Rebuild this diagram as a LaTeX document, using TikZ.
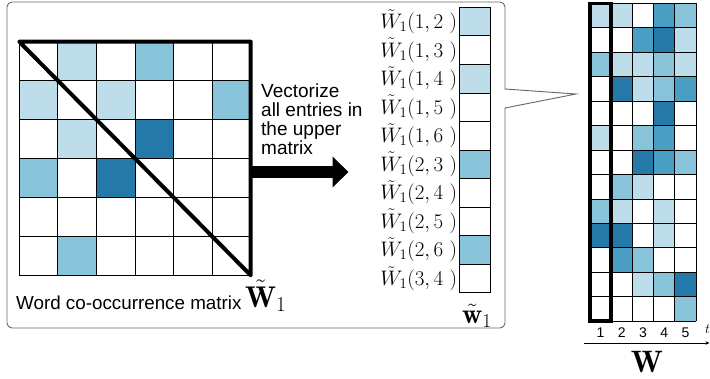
\RequirePackage{fix-cm}
\documentclass[tikz,border=0pt]{standalone}
\usepackage{amsmath,amssymb}
\usepackage{fontspec}
\newfontfamily\helv{Liberation Sans}
\usetikzlibrary{arrows.meta}
\definecolor{tone1}{HTML}{BCDDE9}
\definecolor{tone2}{HTML}{89C3D9}
\definecolor{tone3}{HTML}{4A9EC4}
\definecolor{tone4}{HTML}{2479A9}
\definecolor{framegray}{HTML}{666666}

\tikzset{
  gridline/.style={black,line width=0.8pt},
  uppercut/.style={black,line width=4pt,line join=round},
  vecarrow/.style={black,line width=12pt,-{Triangle[length=16pt,width=30pt]}},
  boxframe/.style={framegray,line width=0.9pt},
  sanstext/.style={font=\helv\fontsize{19}{18.7}\selectfont,inner sep=0pt},
  entrylabel/.style={anchor=east,inner sep=0pt,font=\fontsize{21}{21}\selectfont},
  colnum/.style={font=\helv\fontsize{14}{14}\selectfont,inner sep=0pt},
  boldlabel/.style={inner sep=0pt,font=\fontsize{28}{28}\selectfont},
}

\begin{document}
\begin{tikzpicture}[x=1pt,y=-1pt]
        \useasboundingbox (0,0) rectangle (710,378);
        % callout frame
        \draw[boxframe] (576,94) -- (505,108)
          {[rounded corners=5pt] -- (505,328) -- (7,328) -- (7,2) -- (505,2)}
          -- (505,89) -- cycle;
        % co-occurrence matrix
        \def\cw{38.57}
        \def\ch{38.93}
        \begin{scope}[shift={(19.3,41.7)}]
          \foreach \r/\c/\col in {1/2/tone1,1/4/tone2,2/1/tone1,2/3/tone1,2/6/tone2,
                                  3/2/tone1,3/4/tone4,4/1/tone2,4/3/tone4,6/2/tone2}
            \fill[\col] ({(\c-1)*\cw},{(\r-1)*\ch}) rectangle ({\c*\cw},{\r*\ch});
          \foreach \k in {0,...,6} {
            \draw[gridline] (\k*\cw,0) -- (\k*\cw,6*\ch);
            \draw[gridline] (0,\k*\ch) -- (6*\cw,\k*\ch);
          }
          \draw[uppercut] (0,0) -- (6*\cw,0) -- (6*\cw,6*\ch) -- cycle;
          \coordinate (arrS) at (6*\cw,130.3);
        \end{scope}
        \node[sanstext,anchor=base west,font=\helv\fontsize{18.8}{18.8}\selectfont]
          (cooclabel) at (16,309) {Word co-occurrence matrix};
        \node[boldlabel,anchor=base west,font=\fontsize{30}{30}\selectfont]
          (Wtilde) at (245,307) {$\tilde{\mathbf{W}}_1$};
        % vectorize arrow
        \coordinate (arrE) at (348.5,172);
        \draw[vecarrow] (arrS) -- (arrE);
        \node[sanstext,anchor=north west,align=left] (vectext) at (261,84)
          {Vectorize\\all entries in\\the upper\\matrix};
        % vector of upper entries
        \def\vh{28.54}
        \begin{scope}[shift={(459.3,7.3)}]
          \foreach \k in {1,3}
            \fill[tone1] (0,{(\k-1)*\vh}) rectangle (31.4,{\k*\vh});
          \foreach \k in {6,9}
            \fill[tone2] (0,{(\k-1)*\vh}) rectangle (31.4,{\k*\vh});
          \foreach \k in {0,...,10}
            \draw[gridline] (0,\k*\vh) -- (31.4,\k*\vh);
          \draw[gridline] (0,0) -- (0,10*\vh);
          \draw[gridline] (31.4,0) -- (31.4,10*\vh);
          \foreach \k/\i/\j in {1/1/2,2/1/3,3/1/4,4/1/5,5/1/6,6/2/3,7/2/4,8/2/5,9/2/6,10/3/4}
            \node[entrylabel] (entry\k) at (-2,{(\k-0.5)*\vh}) {$\tilde{W}_1(\i,\j\ )$};
        \end{scope}
        \node[boldlabel,anchor=base east] (wtilde) at (492,323) {$\tilde{\mathbf{w}}_1$};
        % factor matrix W
        \def\mw{21.2}
        \def\mh{24.45}
        \begin{scope}[shift={(590,3.3)}]
          \foreach \row [count=\r] in {{1,1,0,3,2},{0,0,3,4,1},{2,1,1,2,1},{0,4,1,2,3},
                                       {0,0,0,4,0},{1,0,2,3,0},{0,0,4,3,2},{0,2,1,0,0},
                                       {2,1,0,1,0},{4,4,0,1,0},{0,3,2,0,0},{0,0,1,2,4},
                                       {0,0,0,0,2}}
            \foreach \v [count=\c] in \row {
              \ifnum\v>0
                \fill[tone\v] ({(\c-1)*\mw},{(\r-1)*\mh}) rectangle ({\c*\mw},{\r*\mh});
              \fi
            };
          \foreach \k in {0,...,13}
            \draw[gridline] (0,\k*\mh) -- (5*\mw,\k*\mh);
          \foreach \k in {0,...,5}
            \draw[gridline] (\k*\mw,0) -- (\k*\mw,13*\mh);
          \draw[black,line width=3.5pt] (0,0) rectangle (\mw,13*\mh);
          \foreach \c in {1,...,5}
            \node[colnum] (col\c) at ({(\c-0.5)*\mw},329) {\c};
        \end{scope}
        \coordinate (axS) at (584,343);
        \coordinate (axE) at (709.5,343);
        \draw[black,line width=0.8pt,-{Stealth[length=4pt,width=3.5pt]}] (axS) -- (axE);
        \node[anchor=base west,inner sep=0pt,font=\fontsize{14}{14}\selectfont]
          (tlabel) at (705,333) {$t$};
        \node[anchor=base,inner sep=0pt,font=\fontsize{31}{31}\selectfont]
          (Wlabel) at (647,372) {$\mathbf{W}$};
\end{tikzpicture}
\end{document}
